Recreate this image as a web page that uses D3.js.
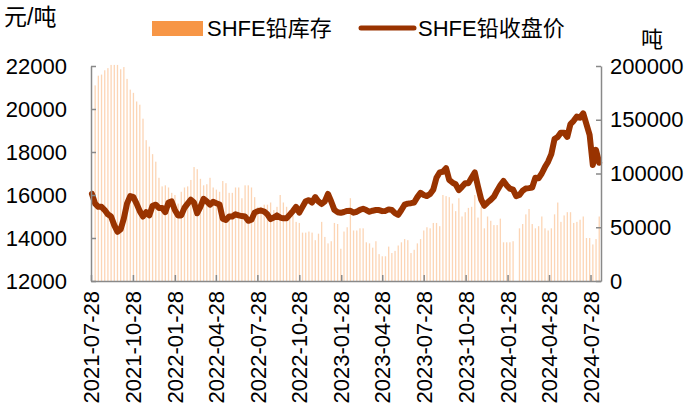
<!DOCTYPE html>
<html>
<head>
<meta charset="utf-8">
<script src="https://cdn.jsdelivr.net/npm/d3@7"></script>
<style>
  body { margin: 0; background: #fff; }
  svg { display: block; }
  text { font-family: "Liberation Sans", Arial, "Noto Sans CJK SC", sans-serif; fill: #000; }
</style>
</head>
<body>
<div id="chart"></div>
<script>
// x axis labels (quarterly)
const tickDates = ["2021-07-28", "2021-10-28", "2022-01-28", "2022-04-28", "2022-07-28",
  "2022-10-28", "2023-01-28", "2023-04-28", "2023-07-28", "2023-10-28",
  "2024-01-28", "2024-04-28", "2024-07-28"];
const priceTicks = [12000, 14000, 16000, 18000, 20000, 22000];
const invTicks = [0, 50000, 100000, 150000, 200000];

// weekly series
const invStart = "2021-08-06";
const priceStart = "2021-07-30";

// SHFE lead stock, thousand tonnes
const inventoryK = [
  182, 191, 192, 196, 198, 201, 201, 201, 197, 199,
  188, 178, 175, 167, 164, 151, 131, 125, 118, 111,
  96, 88, 89, 87, 82, 80, 72, 83, 87, 88,
  94, 106, 104, 95, 89, 90, 96, 87, 85, 83,
  93, 91, 82, 82, 87, 87, 77, 89, 89, 87,
  78, 69, 69, 71, 71, 73, 66, 69, 80, 73,
  69, 66, 61, 55, 54, 45, 45, 46, 45, 38,
  44, 55, 41, 35, 37, 54, 53, 30, 46, 50,
  77, 47, 47, 49, 49, 36, 35, 31, 37, 25,
  23, 23, 32, 26, 28, 33, 36, 39, 38, 26,
  29, 35, 39, 47, 50, 49, 54, 54, 51, 80,
  79, 78, 72, 65, 77, 60, 64, 68, 69, 80,
  59, 69, 49, 60, 56, 52, 52, 58, 36, 36,
  36, 37, 0, 49, 53, 62, 67, 53, 49, 51,
  60, 49, 47, 49, 62, 73, 55, 61, 64, 64,
  54, 55, 57, 60, 40, 40, 34, 39, 60
];

// SHFE lead close, yuan/tonne
const price = [
  16050, 15600, 15450, 15450, 15300, 15100, 15000, 14600, 14290, 14400,
  14900, 15600, 15950, 15900, 15600, 15250, 15000, 15200, 15050, 15500,
  15550, 15400, 15400, 15200, 15650, 15700, 15300, 15050, 15050, 15400,
  15600, 15780, 15650, 15150, 15450, 15820, 15700, 15550, 15680, 15620,
  15560, 14900, 14840, 15000, 15000, 15100, 15050, 15020, 15000, 14800,
  14850, 15180, 15250, 15280, 15230, 15100, 14880, 14950, 15050, 14950,
  14915, 14920, 15080, 15250, 15450, 15180, 15450, 15710, 15760, 15650,
  15900, 15700, 15580, 15700, 16050, 15700, 15310, 15200, 15170, 15210,
  15260, 15270, 15180, 15220, 15310, 15360, 15300, 15220, 15270, 15300,
  15300, 15250, 15260, 15330, 15300, 15160, 15080, 15300, 15550, 15600,
  15620, 15650, 15900, 16100, 16000, 15950, 16050, 16250, 16800, 17050,
  17080, 17250, 16700, 16580, 16500, 16230, 16380, 16550, 16550, 16800,
  17050, 16400, 15800, 15500, 15650, 15770, 15920, 16200, 16450, 16650,
  16450, 16300, 16250, 15950, 16000, 16200, 16300, 16320, 16350, 16800,
  16780, 17000, 17300, 17550, 17900, 18600, 18700, 18900, 18900, 18700,
  19300, 19450, 19650, 19600, 19800, 19300, 18800, 17400, 18100, 17500
];

const width = 699, height = 414;
const margin = { left: 91, right: 98, top: 66, bottom: 133 };
const parse = d3.timeParse("%Y-%m-%d");
const fmt = d3.timeFormat("%Y-%m-%d");

const invDates = inventoryK.map((d, i) => d3.timeWeek.offset(parse(invStart), i));
const priceDates = price.map((d, i) => d3.timeWeek.offset(parse(priceStart), i));

const svg = d3.select("#chart").append("svg")
  .attr("width", width)
  .attr("height", height);

const x = d3.scaleTime()
  .domain([parse("2021-07-28"), parse("2024-08-20")])
  .range([margin.left, width - margin.right]);
const yL = d3.scaleLinear().domain([12000, 22000]).range([height - margin.bottom, margin.top]);
const yR = d3.scaleLinear().domain([0, 200000]).range([height - margin.bottom, margin.top]);

// inventory bars
svg.append("g")
  .selectAll("rect")
  .data(inventoryK)
  .join("rect")
  .attr("x", (d, i) => x(invDates[i]) - 0.6)
  .attr("width", 1.3)
  .attr("y", d => yR(d * 1000))
  .attr("height", d => yR(0) - yR(d * 1000))
  .attr("fill", "#F79646")
  .attr("fill-opacity", 0.4);

// price line
const line = d3.line()
  .x((d, i) => x(priceDates[i]))
  .y(d => yL(d));

svg.append("path")
  .datum(price)
  .attr("d", line)
  .attr("fill", "none")
  .attr("stroke", "#993300")
  .attr("stroke-width", 6)
  .attr("stroke-linejoin", "round")
  .attr("stroke-linecap", "round");

// axes
const axisColor = "#898989";
function styleAxis(g) {
  g.selectAll(".domain").attr("stroke", axisColor).attr("stroke-width", 1.5);
  g.selectAll(".tick line").attr("stroke", axisColor).attr("stroke-width", 1.5);
  g.selectAll("text").attr("font-size", 22).attr("fill", "#000")
    .style("font-family", "'Liberation Sans', Arial, sans-serif");
}

svg.append("g")
  .attr("transform", `translate(${margin.left},0)`)
  .call(d3.axisLeft(yL).tickValues(priceTicks).tickFormat(d3.format("d"))
    .tickSizeInner(-5).tickSizeOuter(0).tickPadding(24))
  .call(styleAxis);

svg.append("g")
  .attr("transform", `translate(${width - margin.right},0)`)
  .call(d3.axisRight(yR).tickValues(invTicks).tickFormat(d3.format("d"))
    .tickSizeInner(-5).tickSizeOuter(0).tickPadding(9))
  .call(styleAxis)
  .selectAll("text").attr("text-anchor", "start");

const xAxis = svg.append("g")
  .attr("transform", `translate(0,${height - margin.bottom})`)
  .call(d3.axisBottom(x).tickValues(tickDates.map(parse)).tickFormat(fmt)
    .tickSizeInner(-6).tickSizeOuter(0))
  .call(styleAxis);

xAxis.selectAll(".tick text")
  .attr("transform", "rotate(-90)")
  .attr("text-anchor", "end")
  .attr("x", -10)
  .attr("y", 0)
  .attr("dy", "0.35em");

// axis units
svg.append("text").attr("x", 4).attr("y", 25).attr("font-size", 23).text("元/吨");
svg.append("text").attr("x", 641).attr("y", 47).attr("font-size", 22).text("吨");

// legend
const legend = svg.append("g");
legend.append("rect")
  .attr("x", 152).attr("y", 21).attr("width", 51).attr("height", 15)
  .attr("fill", "#F79646");
legend.append("text").attr("x", 207).attr("y", 36).attr("font-size", 22).text("SHFE铅库存");
legend.append("line")
  .attr("x1", 361).attr("x2", 414).attr("y1", 28).attr("y2", 28)
  .attr("stroke", "#993300").attr("stroke-width", 5).attr("stroke-linecap", "round");
legend.append("text").attr("x", 418).attr("y", 36).attr("font-size", 22).text("SHFE铅收盘价");
</script>
</body>
</html>
